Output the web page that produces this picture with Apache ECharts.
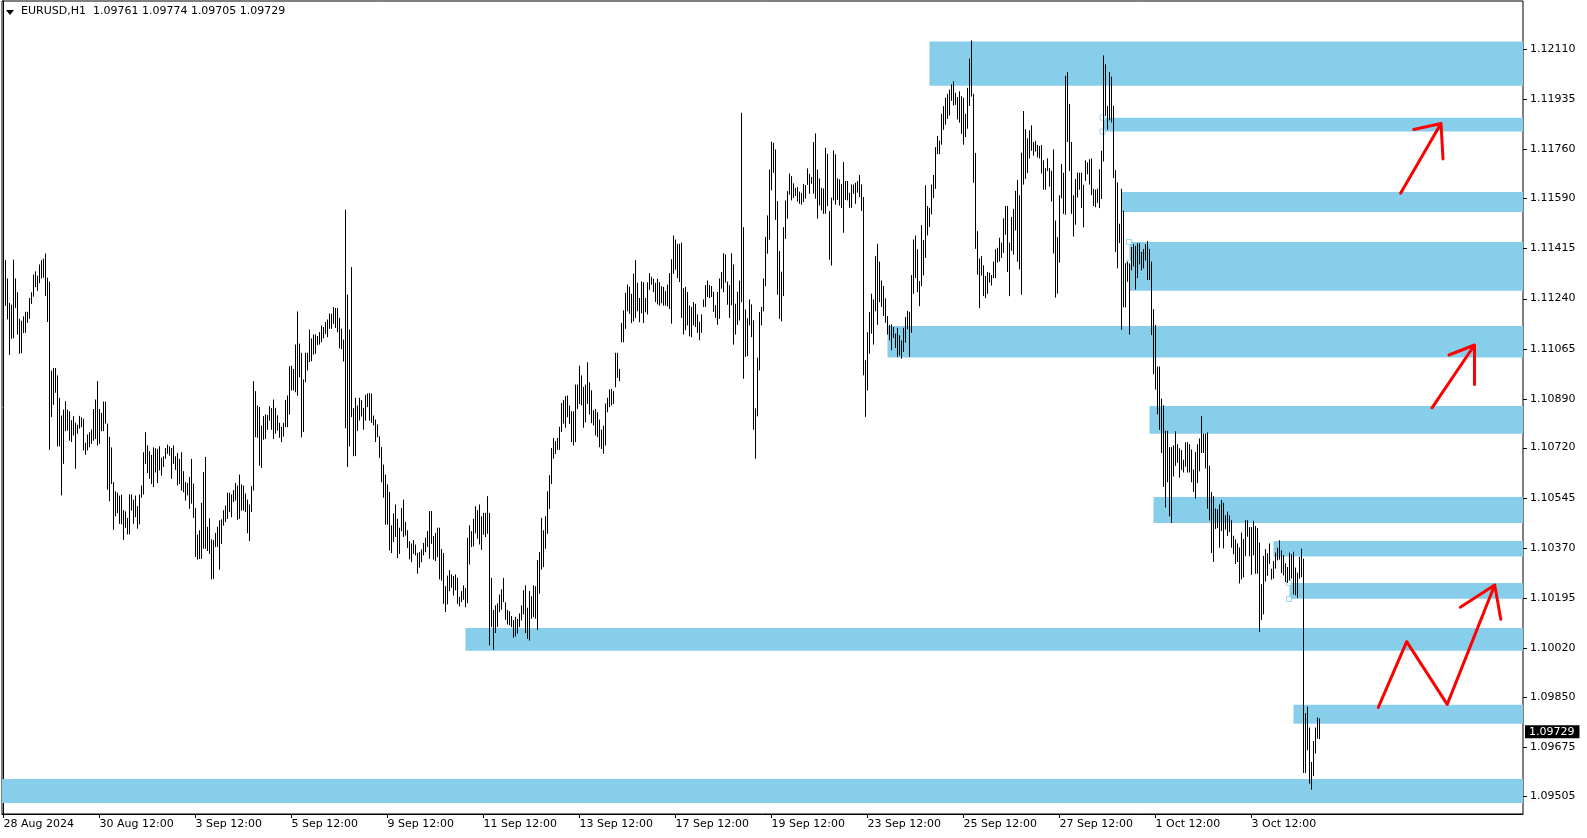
<!DOCTYPE html>
<html><head><meta charset="utf-8">
<script src="https://cdn.jsdelivr.net/npm/echarts@6/dist/echarts.min.js"></script>
<style>html,body{margin:0;padding:0;background:#fff}#c{width:1587px;height:838px}</style>
</head><body><div id="c"></div>
<script>
// Prices are stored as points above BASE (1 point = 0.00001)
const BASE = 1.09;
const PT = 100000;

// Bar highs / lows (H1 EURUSD), segment by segment
const highs1 = [2455,2372,2308,2223,2217,2374,2308,2260,2168,2161,
2176,2192,2192,2240,2260,2322,2333,2318,2357,2372,
2377,2395,2311,2297,1987,1996,1996,1970,1892,1830,
1851,1880,1851,1845,1814,1828,1805,1798,1829,1824,
1819,1735,1764,1772,1781,1853,1886,1950,1853,1839,
1879,1879,1802,1756,1719,1598,1566,1561,1551,1554,
1500,1496,1473,1555,1555,1537,1551,1514,1555,1586,
1702,1772,1726,1706,1693,1719,1716,1714,1723,1683,
1688,1717,1729,1723,1717,1726,1688,1700,1679,1702,
1636,1599,1595,1616,1679,1593,1508,1415,1430,1526,
1633,1686,1442,1472,1398,1396,1421,1442,1465,1468,
1500,1516,1561,1561,1555,1570,1595,1586,1624,1590,
1586,1558,1537,1520,1584,1950,1915,1865,1860,1795,
1828,1834,1832,1863,1856,1886,1857,1831,1805,1791,
1805,1884,1900,2002,2004,1993,2078,2193,2081,2049,
1956,2049,2049,2130,2099,2113,2113,2107,2121,2144,
2139,2156,2165,2186,2185,2208,2205,2205,2171];
const lows1 = [2328,2216,2169,2045,2101,2103,2209,2116,2049,2051,
2121,2122,2157,2171,2223,2248,2281,2268,2295,2311,
2314,2250,2160,1714,1828,1871,1913,1726,1726,1555,
1665,1779,1781,1746,1741,1764,1648,1770,1788,1793,
1712,1697,1712,1723,1735,1746,1752,1729,1735,1779,
1779,1805,1575,1535,1595,1435,1482,1493,1456,1454,
1400,1442,1419,1419,1502,1456,1479,1439,1454,1547,
1558,1665,1633,1613,1595,1584,1635,1598,1642,1624,
1654,1683,1700,1694,1613,1665,1644,1590,1595,1572,
1566,1537,1555,1508,1526,1477,1340,1331,1333,1334,
1369,1369,1361,1351,1262,1264,1375,1375,1296,1386,
1450,1462,1473,1497,1479,1532,1537,1470,1473,1502,
1502,1497,1423,1396,1497,1572,1758,1756,1659,1651,
1749,1752,1784,1816,1784,1752,1770,1781,1756,1741,
1760,1793,1793,1837,1921,1921,1915,1903,1967,1758,
1776,1950,1991,2020,2023,2046,2049,2079,2081,2089,
2103,2118,2107,2136,2136,2153,2139,2124,2068];

const highs2 = [2133,2095,2548,2252,2130,2348,1855,1892,1865,1892,
1884,1857,1903,1907,1909,1907,1830,1816,1799,1758,
1720,1659,1624,1590,1564,1447,1489,1520,1470,1439,
1508,1537,1459,1430,1392,1384,1396,1380,1351,1354,
1363,1386,1404,1427,1497,1497,1410,1421,1439,1439,
1365,1351,1235,1272,1291,1276,1270,1276,1264,1198,
1218,1238,1229,1404,1447,1427,1470,1514,1500,1520,
1479,1491,1491,1549,1491,1264,1152,1168,1175,1206,
1224,1264,1179,1152,1148,1131,1117,1128,1121,1140,
1168,1221,1238,1160,1218,1200,1238,1235,1326,1354,
1473,1430,1479,1566,1622,1717,1752,1741,1752,1791,
1874,1884,1898,1900,1865,1845,1845,1938,1938,2004,
1970,1930,1938,2016,1946,1918,1849,1853,1842,1816,
1781,1795,1872,1892,1921,1923,1915,2049,2049,1993,
2153,2197,2258,2287,2279,2255,2325,2372,2293,2240,
2298,2295,2240,2295,2327,2314,2307,2293,2307,2295,
2281,2279,2264,2287,2327];
const lows2 = [2065,2022,1789,1654,1726,1828,1692,1692,1779,1816,
1830,1784,1816,1863,1816,1808,1799,1741,1758,1686,
1601,1547,1453,1453,1363,1354,1392,1410,1336,1351,
1430,1410,1415,1372,1332,1322,1351,1346,1282,1303,
1322,1346,1357,1375,1334,1386,1331,1326,1340,1262,
1258,1177,1148,1175,1221,1233,1206,1224,1177,1168,
1183,1191,1165,1179,1314,1375,1377,1423,1404,1384,
1365,1418,1410,1421,1032,1096,1017,1075,1096,1148,
1156,1183,1121,1105,1102,1096,1059,1063,1073,1096,
1119,1140,1075,1055,1049,1125,1131,1125,1086,1212,
1296,1305,1369,1421,1508,1595,1683,1700,1714,1714,
1776,1805,1791,1828,1805,1741,1729,1741,1857,1874,
1869,1791,1810,1874,1837,1807,1799,1764,1758,1723,
1717,1700,1729,1845,1863,1869,1874,1932,1965,1953,
2089,2089,2136,2197,2188,2156,2162,2174,2197,2159,
2190,2156,2194,2186,2272,2290,2264,2229,2221,2217,
2225,2217,2217,2214,2205];

const highs3 = [2375,2458,2444,2429,2429,2433,2274,2279,2261,2214,
2209,2226,2220,2183,2157,2183,2235,2285,2301,2285,
2282,2262,2215,2261,2308,2331,2396,2392,2297,2285,
2396,2357,2220,2262,2301,2886,2487,2200,2169,2235,
2218,2162,1855,2032,2191,2209,2308,2453,2528,2688,
2785,2781,2758,2578,2404,2332,2487,2580,2613,2674,
2665,2640,2624,2627,2611,2607,2638,2634,2692,2673,
2662,2784,2814,2688,2657,2624,2622,2764,2743,2543,
2590,2755,2741,2657,2654,2638,2714,2648,2648,2607,
2636,2636,2642,2648,2669,2636,2592,2023,2121,2191,
2255,2235,2386,2429,2367,2301,2282,2239,2177,2146,
2148,2139,2116,2136,2110,2092,2136,2174,2195,2192,
2320,2444,2458,2410,2299,2494,2442,2633,2561,2555,
2636,2669,2766,2805,2789,2882,2909,2938,2952,2967,
2985,2996,2956,2941,2961,2944,2938,2882,2973,3075,
3138,2952,2746,2473,2378,2386,2354,2317,2331,2328,
2320,2367,2410,2415,2450,2433,2518,2561,2561,2433];
const lows3 = [2154,2328,2342,2313,2299,2174,2116,2131,2148,2110,
2107,2148,2142,2122,2096,2122,2212,2212,2247,2243,
2247,2195,2174,2150,2171,2276,2264,2297,2220,2174,
2218,2081,2116,2150,2165,2229,1962,2038,2041,2148,
2107,1784,1683,1831,1991,2148,2197,2285,2398,2447,
2619,2680,2516,2255,2171,2162,2250,2450,2520,2604,
2584,2592,2599,2580,2572,2569,2578,2590,2638,2607,
2642,2607,2590,2520,2566,2549,2537,2537,2564,2377,
2357,2584,2569,2586,2566,2557,2471,2586,2584,2558,
2558,2607,2572,2611,2595,2547,1974,1829,1921,2049,
2119,2081,2197,2150,2229,2212,2181,2157,2116,2096,
2061,2104,2069,2038,2043,2032,2055,2088,2134,2038,
2122,2258,2313,2264,2215,2285,2322,2383,2462,2491,
2535,2592,2624,2745,2745,2778,2830,2848,2868,2880,
2931,2915,2917,2866,2855,2816,2778,2805,2834,2913,
2946,2645,2415,2325,2208,2322,2250,2243,2258,2297,
2287,2313,2313,2367,2371,2383,2401,2464,2334,2250];

const highs4 = [2523,2551,2614,2652,2598,2747,2892,2829,2797,2825,
2842,2784,2788,2774,2770,2774,2720,2693,2727,2693,
2684,2758,2510,2452,2598,2707,2677,3015,3028,2917,
2784,2598,2655,2677,2677,2677,2635,2720,2713,2724,
2727,2621,2618,2621,2689,2754,3086,3055,2910,3028,
3012,2910,2686,2643,2499,2621,2544,2361,2367,2361,
2418,2428,2422,2431,2431,2401,2411,2428,2439,2411,
2367,2201,2146,2001,2001,1889,1866,1777,1777,1720,
1720,1726,1775,1730,1716,1710,1676,1737,1737,1730,
1712,1642,1703,1730,1750,1828,1767,1767,1771,1655,
1563,1549,1506,1503,1520,1536,1526,1482,1495,1482,
1465,1411,1398,1384,1370,1422,1400,1465,1465,1441,
1441,1463,1445,1438,1387,1242,1341,1364,1350,1384];
const lows4 = [2408,2395,2479,2370,2343,2255,2639,2659,2679,2730,
2757,2740,2754,2734,2730,2678,2621,2621,2686,2632,
2580,2399,2245,2259,2367,2591,2537,2534,2788,2686,
2537,2458,2499,2594,2621,2557,2490,2652,2675,2639,
2602,2564,2560,2575,2557,2589,2720,2879,2831,2863,
2856,2662,2404,2347,2435,2133,2211,2211,2300,2116,
2340,2354,2273,2313,2361,2340,2347,2374,2306,2306,
2114,1978,1924,1838,1784,1703,1585,1513,1601,1482,
1459,1621,1658,1669,1617,1644,1635,1655,1635,1635,
1601,1567,1544,1598,1639,1703,1703,1649,1509,1468,
1354,1323,1438,1441,1373,1431,1370,1436,1414,1427,
1373,1350,1316,1323,1248,1262,1269,1343,1411,1343,
1278,1346,1282,1282,1079,1120,1140,1255,1275,1316];

const highs5 = [1296,1323,1352,1369,1395,1360,1343,1315,1302,1352,
1346,1355,1300,1282,1337,1366,1331,792,815,742,
622,695,742,777,774];
const lows5 = [1261,1265,1300,1329,1331,1284,1276,1253,1250,1259,
1265,1210,1207,1198,1265,1270,587,587,666,550,
529,576,655,707,705];

// Axis labels
const dateLabels = ['28 Aug 2024','30 Aug 12:00','3 Sep 12:00','5 Sep 12:00','9 Sep 12:00','11 Sep 12:00',
  '13 Sep 12:00','17 Sep 12:00','19 Sep 12:00','23 Sep 12:00','25 Sep 12:00','27 Sep 12:00','1 Oct 12:00','3 Oct 12:00'];
const dateLabelBars = [0,48,96,144,192,240,288,336,384,432,480,528,576,624];
const priceTicks = [1.12110,1.11935,1.11760,1.11590,1.11415,1.11240,1.11065,1.10890,1.10720,1.10545,1.10370,1.10195,1.10020,1.09850,1.09675,1.09505];
const headerText = 'EURUSD,H1  1.09761 1.09774 1.09705 1.09729';
const lastPrice = 1.09729;

// Supply/demand zones: [left bar, top price, bottom price]
const zoneLeft   = [463, 550, 559, 563, 442, 573, 575, 635, 643, 231, 645, -0.75];
const zoneTop    = [1.12136,1.11870,1.11611,1.11437,1.11144,1.10865,1.10548,1.10394,1.10248,1.10091,1.09823,1.09564];
const zoneBottom = [1.11982,1.11822,1.11542,1.11267,1.11034,1.10768,1.10457,1.10340,1.10193,1.10012,1.09757,1.09481];
// Small object anchor squares
const anchorBars   = [549.5, 549.5, 562.75, 562.75, 642.75, 642.75];
const anchorPrices = [1.11871, 1.11822, 1.11437, 1.11365, 1.10248, 1.10192];

// Hand-drawn red arrows (bar index, price)
const arrowUpper = [[698.55,1.116069],[718.75,1.118503],[705.15,1.118294],[718.75,1.118503],[719.75,1.117269]];
const arrowMiddle = [[714.25,1.108589],[735.5,1.110779],[722.75,1.110430],[735.5,1.110779],[735.5,1.109398]];
const arrowZigzag = [[687.4,1.098141],[701.6,1.100436],[721.85,1.098246],[745.6,1.102410],[728.4,1.101635],[745.6,1.102410],[748.65,1.101213]];

// ---- build
const highs = highs1.concat(highs2, highs3, highs4, highs5);
const lows = lows1.concat(lows2, lows3, lows4, lows5);
const n = Math.min(highs.length, lows.length);
const barData = [];
for (let i = 0; i < n; i++) barData.push([i, BASE + highs[i] / PT, BASE + lows[i] / PT]);
const X_MIN = -0.75, X_MAX = 759.75;
const zoneData = zoneLeft.map((l, k) => [l, zoneTop[k], zoneBottom[k]]);
const anchorData = anchorBars.map((b, k) => [b, anchorPrices[k]]);
const FONT = 'DejaVu Sans';

const chart = echarts.init(document.getElementById('c'));
chart.setOption({
  animation: false,
  backgroundColor: '#fff',
  grid: { left: 2, right: 64, top: 1, bottom: 24, show: true, borderColor: '#000', borderWidth: 1, backgroundColor: '#fff' },
  xAxis: {
    type: 'value', min: X_MIN, max: X_MAX,
    axisLine: { show: true, lineStyle: { color: '#000', width: 1 } },
    axisTick: { show: true, length: 4, lineStyle: { color: '#000' }, customValues: dateLabelBars },
    axisLabel: {
      show: true, customValues: dateLabelBars, color: '#000', fontSize: 11, fontFamily: FONT,
      align: 'left', margin: 5,
      formatter: v => dateLabels[dateLabelBars.indexOf(Math.round(v))] || ''
    },
    splitLine: { show: false }
  },
  yAxis: {
    type: 'value', position: 'right', min: 1.094423, max: 1.122775,
    axisLine: { show: true, lineStyle: { color: '#000', width: 1 } },
    axisTick: { show: false },
    axisLabel: { show: true, customValues: priceTicks, color: '#000', fontSize: 11, fontFamily: FONT, margin: 7,
      formatter: v => v.toFixed(5) },
    splitLine: { show: false },
    minorTick: { show: false },
    minorSplitLine: { show: false }
  },
  graphic: [
    { type: 'polygon', left: 6, top: 10, shape: { points: [[0,0],[8,0],[4,5]] }, style: { fill: '#000' } },
    { type: 'text', left: 21, top: 6, style: { text: headerText, fill: '#000', font: '11px "DejaVu Sans"' } }
  ],
  series: [
    {
      type: 'custom', name: 'zones', z: 1, clip: true, silent: true,
      data: zoneData,
      renderItem: function (params, api) {
        const l = Math.max(api.value(0), X_MIN);
        const p0 = api.coord([l, api.value(1)]);
        const p1 = api.coord([X_MAX, api.value(2)]);
        return { type: 'rect', shape: { x: p0[0], y: p0[1], width: p1[0] - p0[0], height: p1[1] - p0[1] },
          style: { fill: '#87CEEB' } };
      }
    },
    {
      type: 'scatter', name: 'anchors', z: 3, silent: true, symbol: 'rect', symbolSize: 5,
      itemStyle: { color: '#fff', borderColor: '#87CEEB', borderWidth: 1 },
      data: anchorData
    },
    {
      type: 'custom', name: 'EURUSD H1', z: 4, clip: true, silent: true,
      data: barData,
      encode: { x: 0, y: [1, 2] },
      renderItem: function (params, api) {
        const a = api.coord([api.value(0), api.value(1)]);
        const b = api.coord([api.value(0), api.value(2)]);
        return { type: 'line', shape: { x1: a[0], y1: a[1] - 0.5, x2: b[0], y2: b[1] + 0.5 },
          style: { stroke: '#000', lineWidth: 1 } };
      }
    },
    {
      // price-scale tick marks, outside the plot on the right
      type: 'custom', name: 'priceTicks', z: 6, clip: false, silent: true,
      data: priceTicks.map(p => [X_MAX, p]),
      renderItem: function (params, api) {
        const a = api.coord([api.value(0), api.value(1)]);
        const y = Math.round(a[1]) + 0.5;
        return { type: 'line', shape: { x1: a[0], y1: y, x2: a[0] + 4, y2: y }, style: { stroke: '#000', lineWidth: 1 } };
      }
    },
    {
      // current price tag on the price scale
      type: 'custom', name: 'lastPrice', z: 7, clip: false, silent: true,
      data: [[X_MAX, lastPrice]],
      renderItem: function (params, api) {
        const a = api.coord([api.value(0), api.value(1)]);
        return {
          type: 'text', x: a[0] + 2, y: a[1],
          style: { text: lastPrice.toFixed(5), fill: '#fff', backgroundColor: '#000',
            padding: [1, 5, 1, 4], font: '11px "DejaVu Sans"', verticalAlign: 'middle', align: 'left' }
        };
      }
    },
    { type: 'line', name: 'arrowUpper', z: 5, silent: true, symbol: 'none', data: arrowUpper,
      lineStyle: { color: '#FF0000', width: 3, cap: 'round', join: 'round' } },
    { type: 'line', name: 'arrowMiddle', z: 5, silent: true, symbol: 'none', data: arrowMiddle,
      lineStyle: { color: '#FF0000', width: 3, cap: 'round', join: 'round' } },
    { type: 'line', name: 'arrowZigzag', z: 5, silent: true, symbol: 'none', data: arrowZigzag,
      lineStyle: { color: '#FF0000', width: 3, cap: 'round', join: 'round' } }
  ]
});
</script>
</body></html>
